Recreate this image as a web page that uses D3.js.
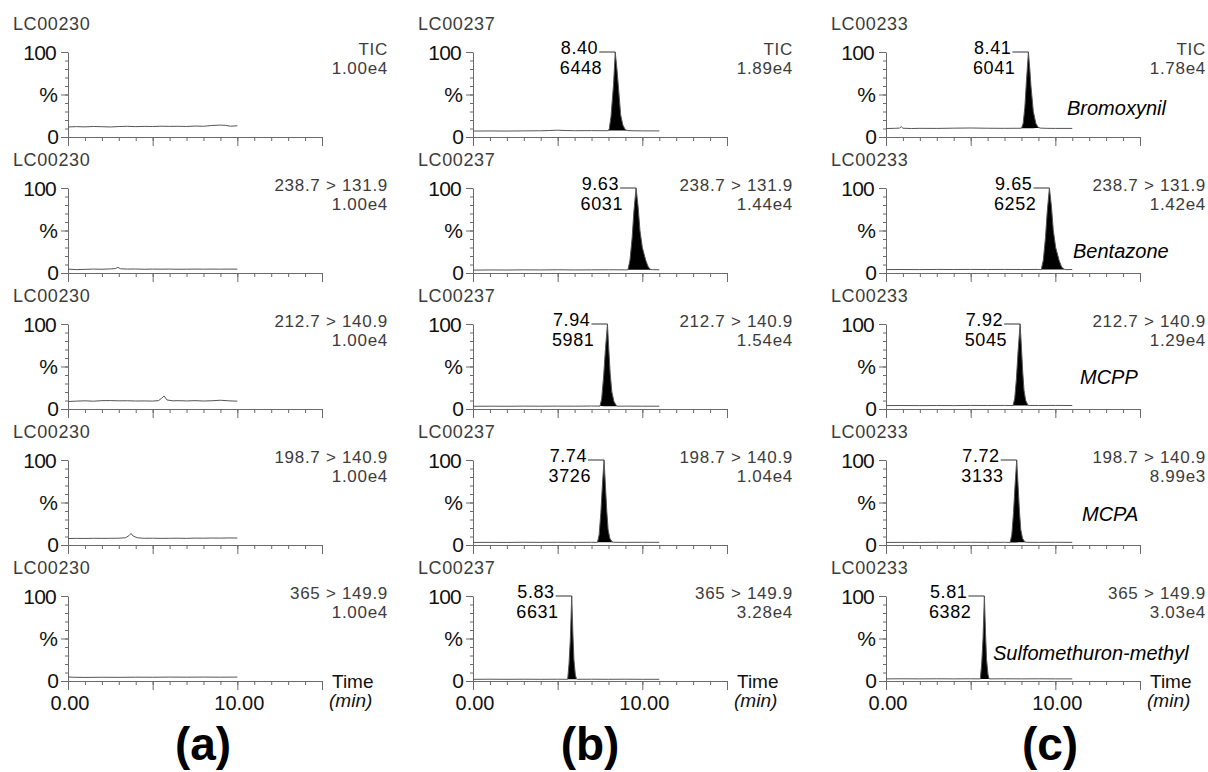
<!DOCTYPE html>
<html><head><meta charset="utf-8">
<script src="https://cdn.jsdelivr.net/npm/d3@7"></script>
<style>
body{margin:0;background:#fff}
svg{display:block}
text{font-family:"Liberation Sans",Arial,Helvetica,sans-serif}
</style>
</head><body>
<svg id="chart" width="1208" height="772"></svg>
<script>
// ---------------- DATA ----------------
const panelNames = ["(a)", "(b)", "(c)"];
const samples = ["LC00230", "LC00237", "LC00233"];
const channels = ["TIC", "238.7 > 131.9", "212.7 > 140.9", "198.7 > 140.9", "365 > 149.9"];
const intensities = [
  ["1.00e4", "1.00e4", "1.00e4", "1.00e4", "1.00e4"],
  ["1.89e4", "1.44e4", "1.54e4", "1.04e4", "3.28e4"],
  ["1.78e4", "1.42e4", "1.29e4", "8.99e3", "3.03e4"]
];
const compounds = ["Bromoxynil", "Bentazone", "MCPP", "MCPA", "Sulfomethuron-methyl"];
const peakTimes = [
  [null, null, null, null, null],
  ["8.40", "9.63", "7.94", "7.74", "5.83"],
  ["8.41", "9.65", "7.92", "7.72", "5.81"]
];
const peakAreas = [
  [null, null, null, null, null],
  ["6448", "6031", "5981", "3726", "6631"],
  ["6041", "6252", "5045", "3133", "6382"]
];
const timeDomain = [0, 15];
const timeLabelTicks = [0, 10];
const timeLabels = ["0.00", "10.00"];
const yLabels = ["100", "%", "0"];

// traces: [time (min), relative intensity (%)]
const baseA1 = [[0,11.8],[0.5,12.2],[1,11.9],[1.5,12.4],[2,12.1],[2.5,11.8],[3,12.3],[3.5,12.6],[4,12.2],[4.5,12.5],[5,12.3],[5.5,12.7],[6,12.5],[6.5,12.6],[7,12.4],[7.5,12.9],[8,12.6],[8.5,13.6],[9,14],[9.3,13.8],[9.6,12.7],[10,13.2]];
const baseA2 = [[0,4.5],[0.5,4],[1,4.3],[1.5,4.6],[2,4.4],[2.5,4.8],[2.8,5.2],[2.95,6.6],[3.1,5],[3.5,4.6],[4,4.7],[4.5,4.4],[5,4.6],[5.5,4.5],[6,4.6],[6.5,4.4],[7,4.5],[7.5,4.6],[8,4.5],[8.5,4.6],[9,4.5],[9.5,4.6],[10,4.5]];
const baseA3 = [[0,8.8],[0.5,9.3],[1,9.6],[1.5,9.2],[2,9.8],[2.5,9.9],[3,9.6],[3.5,9.7],[4,9.4],[4.5,9.5],[5,9.3],[5.35,9.9],[5.52,12.5],[5.67,15.3],[5.85,10.6],[6.2,9.6],[6.5,9.8],[7,9.5],[7.5,9.8],[8,9.4],[8.5,9.7],[9,10.3],[9.5,9.6],[10,9.2]];
const baseA4 = [[0,7.6],[0.5,7.8],[1,7.7],[1.5,7.9],[2,7.8],[2.5,7.9],[3,8],[3.4,8.5],[3.6,11],[3.72,13.6],[3.85,10.5],[4.1,8.5],[4.5,7.9],[5,8],[5.5,7.8],[6,7.9],[6.5,8],[7,7.8],[7.5,8.1],[8,8],[8.5,8.2],[9,8.1],[9.5,8.3],[10,8.2]];
const baseA5 = [[0,4.8],[0.3,4.4],[1,4.2],[2,4.4],[3,4.3],[4,4.5],[5,4.4],[6,4.6],[7,4.5],[8,4.6],[9,4.5],[10,4.6]];

const baseB1 = [[0,7],[1,7.1],[2,7],[3,7.2],[4,7.3],[4.5,7.6],[5,8],[5.5,7.6],[6,7.4],[7,7.5],[7.8,7.4],[8,7.5],[9.1,7.6],[9.5,7.3],[10,7.2],[11,7.2]];
const baseB2 = [[0,3.4],[1,3.6],[2,3.5],[3,3.7],[4,3.6],[5,3.8],[6,3.6],[7,3.7],[8,3.8],[9,3.7],[9.15,3.8],[10.6,3.9],[11,3.8]];
const baseB3 = [[0,3.2],[1,3.3],[2,3.2],[3,3.4],[4,3.3],[5,3.4],[6,3.3],[7,3.5],[7.5,3.4],[8.55,3.3],[9,3.4],[10,3.3],[11,3.3]];
const baseB4 = [[0,3],[1,3.1],[2,3],[3,3.2],[4,3.1],[5,3.2],[6,3.1],[7,3.2],[7.35,3.1],[8.3,3.2],[9,3.1],[10,3.2],[11,3.1]];
const baseB5 = [[0,2],[1,2.1],[2,2],[3,2.1],[4,2],[5,2.1],[5.59,2],[6.15,2],[7,2.1],[8,2],[9,2.1],[10,2],[11,2]];

const baseC1 = [[0,10],[0.5,10.2],[0.8,10.5],[0.9,12.2],[1.0,10.3],[1.5,10],[2,10.2],[3,10.1],[4,10.4],[5,10.6],[6,10.3],[7,10.2],[8,10.3],[9.1,10.5],[9.5,10.2],[10,10.1],[11,10.1]];
const baseC2 = [[0,4],[1,4.1],[2,4],[3,4.2],[4,4.1],[5,4.2],[6,4.1],[7,4.2],[8,4.1],[9,4.2],[9.17,4],[10.62,4],[11,4.1]];
const baseC3 = [[0,4],[1,4.1],[2,4],[3,4.1],[4,4],[5,4.2],[6,4.1],[7,4.2],[7.5,4],[8.45,4.2],[9,4.1],[10,4.2],[11,4.1]];
const baseC4 = [[0,3],[1,3.1],[2,3],[3,3.2],[4,3.1],[5,3.2],[6,3.1],[7,3.2],[7.33,3],[8.28,3.2],[9,3.1],[10,3.2],[11,3.1]];
const baseC5 = [[0,2.5],[1,2.6],[2,2.5],[3,2.6],[4,2.5],[5,2.6],[5.57,2.5],[6.13,2.5],[7,2.6],[8,2.5],[9,2.6],[10,2.5],[11,2.5]];

const peakB1 = [[8.0,7.5],[8.05,10],[8.15,24],[8.3,62],[8.4,100],[8.5,80],[8.6,56],[8.72,26],[8.85,14],[8.98,9],[9.1,7.6]];
const peakB2 = [[9.15,3.8],[9.27,15],[9.4,42],[9.5,72],[9.63,100],[9.75,78],[9.86,50],[10.0,30],[10.2,15],[10.35,7],[10.5,4.2],[10.6,3.9]];
const peakB3 = [[7.5,3.4],[7.6,12],[7.72,40],[7.82,70],[7.94,100],[8.02,70],[8.1,42],[8.2,20],[8.32,9],[8.45,4.5],[8.55,3.3]];
const peakB4 = [[7.35,3.1],[7.45,12],[7.55,38],[7.64,70],[7.74,100],[7.82,70],[7.9,40],[7.98,18],[8.08,8],[8.2,4],[8.3,3.2]];
const peakB5 = [[5.59,2],[5.67,20],[5.75,50],[5.83,100],[5.9,55],[5.96,25],[6.04,8],[6.1,3],[6.15,2]];

const peakC1 = [[8.0,10.3],[8.1,16],[8.2,35],[8.3,68],[8.41,100],[8.5,78],[8.56,60],[8.7,30],[8.85,16],[8.98,11.5],[9.1,10.5]];
const peakC2 = [[9.17,4],[9.29,15],[9.42,42],[9.52,72],[9.65,100],[9.77,78],[9.88,50],[10.02,30],[10.22,15],[10.37,7],[10.52,4.5],[10.62,4]];
const peakC3 = [[7.5,4],[7.6,12],[7.7,35],[7.8,68],[7.92,100],[8.0,72],[8.07,45],[8.15,22],[8.25,10],[8.37,5],[8.45,4.2]];
const peakC4 = [[7.33,3],[7.43,12],[7.53,38],[7.62,70],[7.72,100],[7.8,70],[7.88,40],[7.96,18],[8.06,8],[8.18,4],[8.28,3.2]];
const peakC5 = [[5.57,2.5],[5.65,20],[5.73,50],[5.81,100],[5.88,55],[5.94,25],[6.02,8],[6.08,3],[6.13,2.5]];

const traces = [
  [baseA1, baseA2, baseA3, baseA4, baseA5],
  [baseB1, baseB2, baseB3, baseB4, baseB5],
  [baseC1, baseC2, baseC3, baseC4, baseC5]
];
const peaks = [
  [null, null, null, null, null],
  [peakB1, peakB2, peakB3, peakB4, peakB5],
  [peakC1, peakC2, peakC3, peakC4, peakC5]
];

// ---------------- LAYOUT ----------------
const panelX = [68, 473, 886];
const panelTitleX = [203, 590, 1050];
const plotW = 254, plotH = 85, rowTop = 52, rowStep = 136;
const compoundLabelX = [1067, 1073, 1080, 1082, 993];
const compoundLabelDy = [63, 70, 60, 61, 64];
const axisColor = "#6a6a6a";
const greyText = "#3c3c3c";

const svg = d3.select("#chart");

function mergeTrace(base, peak) {
  if (!peak) return base;
  const a = peak[0][0], b = peak[peak.length - 1][0];
  return base.filter(d => d[0] < a).concat(peak, base.filter(d => d[0] > b));
}

function styleAxis(sel) {
  sel.select(".domain").attr("stroke", axisColor).attr("stroke-width", 1);
  sel.selectAll(".tick line").attr("stroke", axisColor).attr("stroke-width", 1);
  sel.selectAll(".tick text").remove();
}

panelNames.forEach((pname, pi) => {
  const x0 = panelX[pi];
  const x = d3.scaleLinear().domain(timeDomain).range([x0, x0 + plotW]);

  for (let r = 0; r < channels.length; r++) {
    const yTop = rowTop + r * rowStep, yBase = yTop + plotH;
    const y = d3.scaleLinear().domain([0, 100]).range([yBase, yTop]);
    const g = svg.append("g");

    // x axis: minor + major ticks
    g.append("g").attr("transform", `translate(0,${yBase})`)
      .call(d3.axisBottom(x).tickValues(d3.range(0, 16, 1)).tickSize(4).tickSizeOuter(0).tickFormat(""))
      .call(styleAxis);
    g.append("g").attr("transform", `translate(0,${yBase})`)
      .call(d3.axisBottom(x).tickValues([0, 5, 10, 15]).tickSize(9).tickSizeOuter(0).tickFormat(""))
      .call(styleAxis).call(s => s.select(".domain").remove());

    // y axis: minor + major ticks
    g.append("g").attr("transform", `translate(${x0},0)`)
      .call(d3.axisLeft(y).tickValues(d3.range(0, 101, 10)).tickSize(3).tickSizeOuter(0).tickFormat(""))
      .call(styleAxis);
    g.append("g").attr("transform", `translate(${x0},0)`)
      .call(d3.axisLeft(y).tickValues([0, 50, 100]).tickSize(7).tickSizeOuter(0).tickFormat(""))
      .call(styleAxis).call(s => s.select(".domain").remove());

    // y labels
    const yl = g.append("g").attr("fill", "#111").style("font-size", "21px").attr("text-anchor", "end");
    yl.append("text").attr("x", x0 - 12).attr("y", y(100) + 8).attr("letter-spacing", "-0.8").text(yLabels[0]);
    yl.append("text").attr("x", x0 - 10).attr("y", y(50) + 7).text(yLabels[1]);
    yl.append("text").attr("x", x0 - 9).attr("y", y(0) + 7).text(yLabels[2]);

    // sample label
    g.append("text").attr("x", x0 - 55).attr("y", yTop - 22)
      .attr("fill", greyText).style("font-size", "18px").attr("letter-spacing", "0.6")
      .text(samples[pi]);

    // channel / intensity labels
    const rx = x0 + plotW + 66;
    g.append("text").attr("x", rx).attr("y", yTop + 3).attr("text-anchor", "end")
      .attr("fill", greyText).style("font-size", "17px").attr("letter-spacing", "0.7").text(channels[r]);
    g.append("text").attr("x", rx).attr("y", yTop + 22).attr("text-anchor", "end")
      .attr("fill", greyText).style("font-size", "17px").attr("letter-spacing", "0.7").text(intensities[pi][r]);

    // trace
    const peak = peaks[pi][r];
    const full = mergeTrace(traces[pi][r], peak);
    const line = d3.line().x(d => x(d[0])).y(d => y(d[1]));
    if (peak) {
      const p0 = peak[0], p1 = peak[peak.length - 1];
      const area = d3.area().x(d => x(d[0])).y1(d => y(d[1]))
        .y0(d => y(p0[1] + (p1[1] - p0[1]) * (d[0] - p0[0]) / (p1[0] - p0[0])));
      g.append("path").datum(peak).attr("d", area).attr("fill", "#000");
    }
    g.append("path").datum(full).attr("d", line).attr("fill", "none")
      .attr("stroke", "#555").attr("stroke-width", 1);

    // peak annotation
    if (peak) {
      const apex = peak.reduce((m, d) => d[1] > m[1] ? d : m, peak[0]);
      const ax = x(apex[0]), ay = y(apex[1]);
      g.append("line").attr("x1", ax - 16).attr("x2", ax).attr("y1", ay).attr("y2", ay)
        .attr("stroke", "#333").attr("stroke-width", 1);
      g.append("text").attr("x", ax - 17).attr("y", ay + 2).attr("text-anchor", "end")
        .attr("fill", "#000").style("font-size", "18px").attr("letter-spacing", "0.6").text(peakTimes[pi][r]);
      g.append("text").attr("x", ax - 13).attr("y", ay + 22).attr("text-anchor", "end")
        .attr("fill", "#000").style("font-size", "18px").attr("letter-spacing", "0.6").text(peakAreas[pi][r]);
    }

    // compound label (panel c)
    if (pi === 2) {
      g.append("text").attr("x", compoundLabelX[r]).attr("y", yTop + compoundLabelDy[r])
        .attr("fill", "#000").style("font-size", "20px").style("font-style", "italic")
        .text(compounds[r]);
    }

    // bottom row: time labels
    if (r === channels.length - 1) {
      timeLabelTicks.forEach((t, i) => {
        g.append("text").attr("x", x(t) + 2).attr("y", yBase + 29).attr("text-anchor", "middle")
          .attr("fill", "#111").style("font-size", "20px").text(timeLabels[i]);
      });
      g.append("text").attr("x", x0 + plotW + 10).attr("y", yBase + 7)
        .attr("fill", "#111").style("font-size", "19px").text("Time");
      g.append("text").attr("x", x0 + plotW + 7).attr("y", yBase + 26)
        .attr("fill", "#111").style("font-size", "19px").style("font-style", "italic").text("(min)");
    }
  }

  svg.append("text").attr("x", panelTitleX[pi]).attr("y", 760).attr("text-anchor", "middle")
    .attr("fill", "#000").style("font-size", "46px").style("font-weight", "bold").text(pname);
});
</script>
</body></html>
